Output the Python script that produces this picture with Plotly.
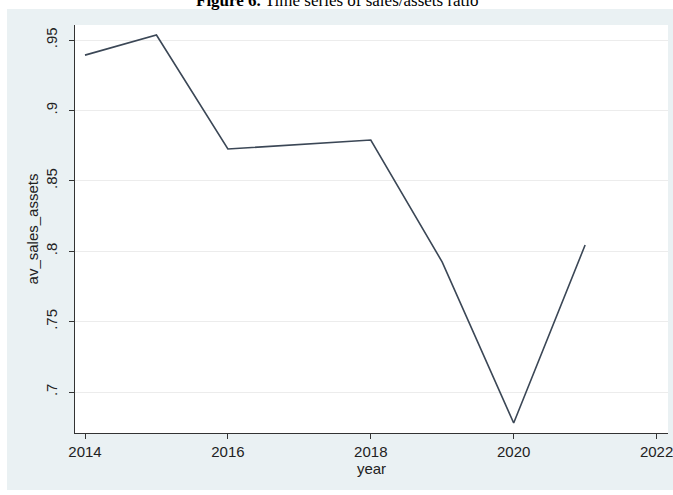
import plotly.graph_objects as go

years = [2014, 2015, 2016, 2017, 2018, 2019, 2020, 2021]
av_sales_assets = [0.9393, 0.9536, 0.8726, 0.8756, 0.8790, 0.7923, 0.6780, 0.8044]

y_tickvals = [0.7, 0.75, 0.8, 0.85, 0.9, 0.95]
y_ticktext = [".7", ".75", ".8", ".85", ".9", ".95"]
x_tickvals = [2014, 2016, 2018, 2020, 2022]
x_ticktext = ["2014", "2016", "2018", "2020", "2022"]

W, H = 673, 495
L, R, T, B = 75, 5, 25, 62
pw, ph = W - L - R, H - T - B

def px(xp):
    return (xp - L) / pw

def py(yp):
    return (H - B - yp) / ph

fig = go.Figure()
fig.add_trace(go.Scatter(
    x=years, y=av_sales_assets, mode="lines",
    line=dict(color="#3b4756", width=1.6),
    hoverinfo="skip", showlegend=False,
))

fig.update_layout(
    width=W, height=H,
    margin=dict(l=L, r=R, t=T, b=B, pad=0, autoexpand=False),
    paper_bgcolor="white",
    plot_bgcolor="rgba(0,0,0,0)",
    font=dict(family="Liberation Sans, Arial, sans-serif", size=15, color="#222"),
    shapes=[
        dict(type="rect", xref="paper", yref="paper", layer="below",
             x0=px(7), x1=px(680), y0=py(490), y1=py(9),
             fillcolor="#eaf1f3", line=dict(width=0)),
        dict(type="rect", xref="paper", yref="paper", layer="below",
             x0=0, x1=1, y0=0, y1=1,
             fillcolor="white", line=dict(width=0)),
    ],
    annotations=[
        dict(xref="paper", yref="paper", x=px(337), y=py(1),
             xanchor="center", yanchor="middle", showarrow=False,
             text="<b>Figure 6.</b> Time series of sales/assets ratio",
             font=dict(family="Liberation Serif, Times New Roman, serif", size=17, color="black")),
    ],
    xaxis=dict(
        range=[2013.86, 2022.16],
        automargin=False,
        ticklabeloverflow="allow",
        tickvals=x_tickvals, ticktext=x_ticktext,
        ticks="outside", ticklen=5, tickcolor="#333", tickwidth=1,
        showline=True, linecolor="#333", linewidth=1,
        showgrid=False, zeroline=False,
        title=dict(text="year", standoff=3, font=dict(size=15)),
        tickfont=dict(size=15),
    ),
    yaxis=dict(
        range=[0.6709, 0.9607],
        automargin=False,
        tickvals=y_tickvals, ticktext=y_ticktext,
        tickangle=-90,
        ticks="outside", ticklen=5, tickcolor="#333", tickwidth=1,
        ticklabelstandoff=6,
        showline=True, linecolor="#333", linewidth=1,
        showgrid=True, gridcolor="#ececec", gridwidth=1,
        zeroline=False,
        title=dict(text="av_sales_assets", standoff=0, font=dict(size=15)),
        tickfont=dict(size=15),
    ),
)

fig.write_html("out.html")
